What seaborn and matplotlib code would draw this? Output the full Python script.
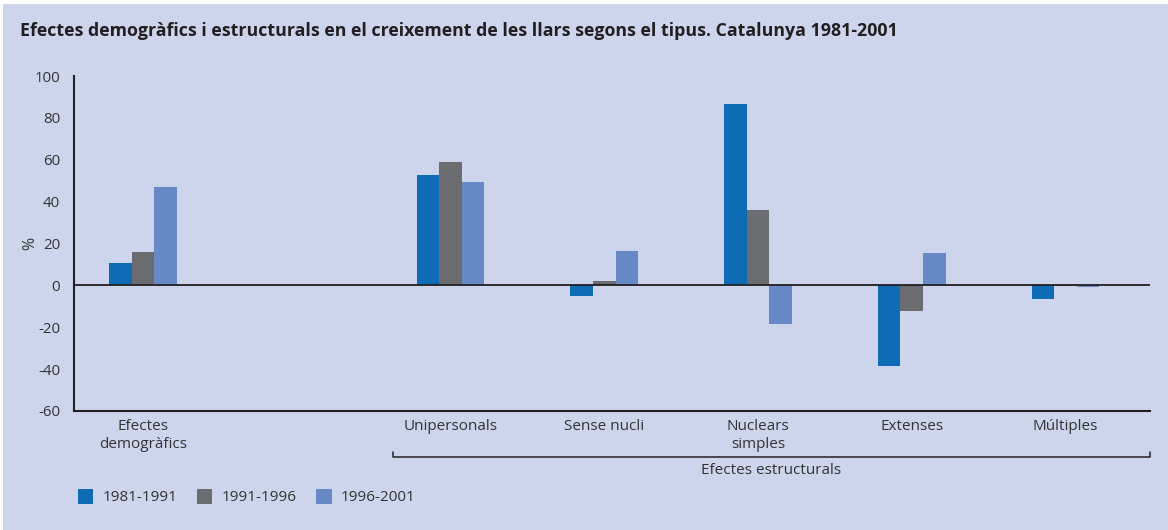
import numpy as np
import pandas as pd
import matplotlib
matplotlib.use('Agg')
import matplotlib.pyplot as plt
from matplotlib.patches import Rectangle, Patch
from matplotlib.lines import Line2D
import seaborn as sns

# 데이터
categories = ['Efectes\ndemogràfics', ' ', 'Unipersonals', 'Sense nucli',
              'Nuclears\nsimples', 'Extenses', 'Múltiples']
value_cats = ['Efectes\ndemogràfics', 'Unipersonals', 'Sense nucli',
              'Nuclears\nsimples', 'Extenses', 'Múltiples']
periods = ['1981-1991', '1991-1996', '1996-2001']
v_1981_1991 = [10.5, 52.5, -5.2, 86.4, -38.5, -6.5]
v_1991_1996 = [15.8, 58.7, 1.9, 35.8, -12.4, -0.5]
v_1996_2001 = [46.8, 49.2, 16.2, -18.6, 15.7, -0.6]
yticks = [100, 80, 60, 40, 20, 0, -20, -40, -60]

BG = '#CDD5EC'
DARK = '#231F20'
TXT = '#333333'
colors = ['#0D6CB5', '#6B6C70', '#6789C6']

sns.set_theme(style='white')
plt.rcParams['font.family'] = ['Open Sans', 'DejaVu Sans']

df = pd.DataFrame({
    'cat': value_cats * 3,
    'period': np.repeat(periods, len(value_cats)),
    'value': v_1981_1991 + v_1991_1996 + v_1996_2001,
})

fig = plt.figure(figsize=(11.68, 5.30), dpi=100, facecolor='white')
fig.patches.append(Rectangle((3 / 1168, 0), 1, 1 - 4 / 530, transform=fig.transFigure,
                             facecolor=BG, edgecolor='none', zorder=-10))
ax = fig.add_axes([74 / 1168, 1 - 411 / 530, 1076 / 1168, 335 / 530])
ax.set_facecolor(BG)

sns.barplot(data=df, x='cat', y='value', hue='period', order=categories,
            hue_order=periods, palette=colors, width=0.44, gap=0,
            saturation=1, errorbar=None, legend=False, linewidth=0, ax=ax)

ax.set_xlim(-0.45, 6.55)
ax.set_ylim(-60, 100)
ax.set_yticks(yticks)
ax.set_yticklabels([str(t) for t in yticks], fontsize=10.8, color=TXT)
ax.axhline(0, color=DARK, lw=1.3, zorder=5)

for s in ['top', 'right']:
    ax.spines[s].set_visible(False)
for s in ['left', 'bottom']:
    ax.spines[s].set_color(DARK)
    ax.spines[s].set_linewidth(1.5)
ax.tick_params(axis='y', direction='out', length=6, width=1.2, color=DARK, pad=4)
ax.tick_params(axis='x', length=0, pad=6, labelsize=11, labelcolor=TXT)
ax.set_xlabel('')
ax.set_ylabel('%', fontsize=11.5, color=TXT)
ax.yaxis.set_label_coords(-(74 - 38) / 1076, 0.5)

# 괄호 (Efectes estructurals)
tr = ax.get_xaxis_transform()
bx0, bx1 = 1.625, 6.55
yb = -(457 - 411) / 335
yt = -(452 - 411) / 335
ax.add_line(Line2D([bx0, bx0, bx1, bx1], [yt, yb, yb, yt], transform=tr,
                   color=DARK, lw=1.1, clip_on=False))
ax.text((bx0 + bx1) / 2, -(471 - 411) / 335, 'Efectes estructurals', transform=tr,
        ha='center', va='center', fontsize=11, color=TXT)

# 제목
fig.text(20 / 1168, 1 - 31 / 530,
         'Efectes demogràfics i estructurals en el creixement de les llars segons el tipus. Catalunya 1981-2001',
         fontsize=12.8, fontweight='bold', color=DARK, ha='left', va='center')

# 범례
handles = [Patch(facecolor=c, edgecolor='none') for c in colors]
fig.legend(handles, periods, loc='center left', bbox_to_anchor=(64 / 1168, 1 - 497 / 530),
           ncol=3, frameon=False, fontsize=11, handlelength=1.0, handleheight=1.2,
           handletextpad=0.6, columnspacing=1.3, labelcolor=TXT)

plt.savefig('out.png', dpi=100, facecolor='white')
